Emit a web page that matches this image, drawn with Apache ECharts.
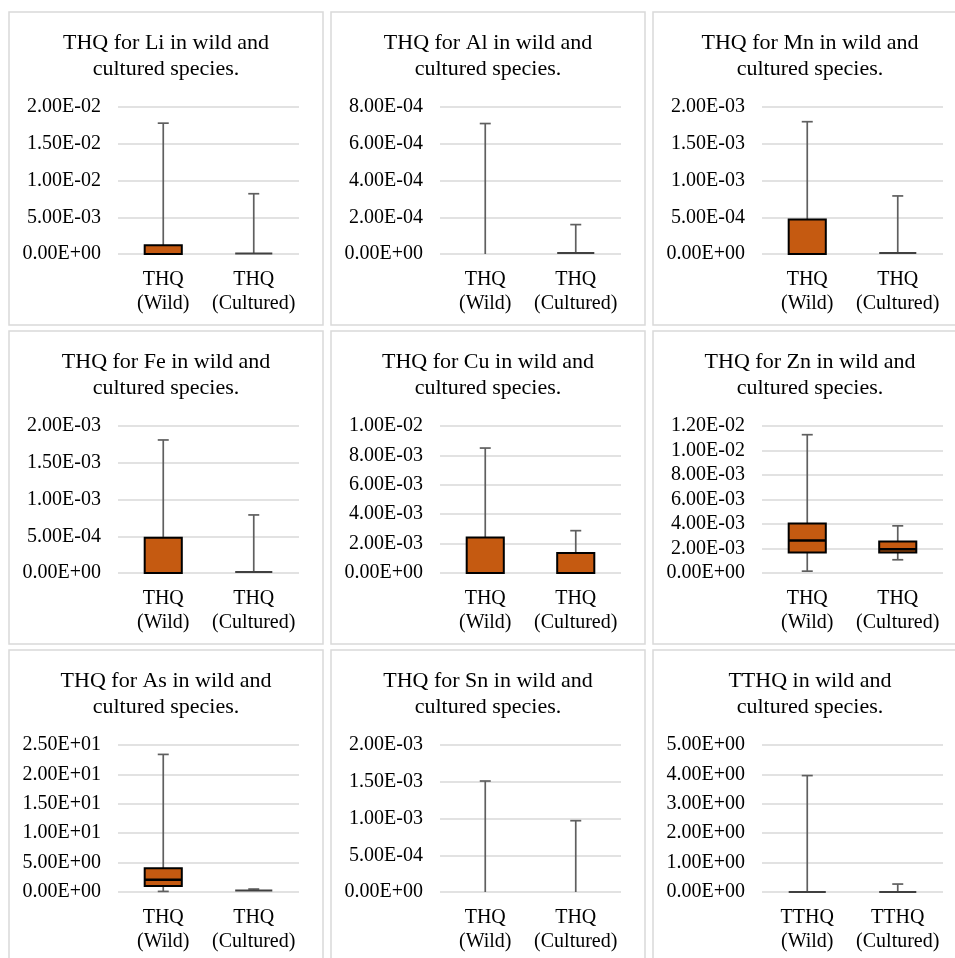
<!DOCTYPE html>
<html><head><meta charset="utf-8">
<script src="https://cdn.jsdelivr.net/npm/echarts@6/dist/echarts.min.js"></script>
<style>html,body{margin:0;padding:0;background:#fff}#c{width:955px;height:958px}</style>
</head><body><div id="c"></div>
<script>
// ---- data ----
const titles = [
  'THQ for Li in wild and\ncultured species.',
  'THQ for Al in wild and\ncultured species.',
  'THQ for Mn in wild and\ncultured species.',
  'THQ for Fe in wild and\ncultured species.',
  'THQ for Cu in wild and\ncultured species.',
  'THQ for Zn in wild and\ncultured species.',
  'THQ for As in wild and\ncultured species.',
  'THQ for Sn in wild and\ncultured species.',
  'TTHQ in wild and\ncultured species.'
];
const categoriesTHQ = ['THQ\n(Wild)', 'THQ\n(Cultured)'];
const categoriesTTHQ = ['TTHQ\n(Wild)', 'TTHQ\n(Cultured)'];
const axisMax  = [0.02, 8e-4, 2e-3, 2e-3, 0.01, 0.012, 25, 2e-3, 5];
const axisStep = [0.005, 2e-4, 5e-4, 5e-4, 0.002, 0.002, 5, 5e-4, 1];

// box stats per group: [min, Q1, median, Q3, max]  (null = no box drawn)
const liBoxes   = [[0, 0, 0, 1.2e-3, 1.78e-2], [5e-5, 5e-5, 8e-5, 1.1e-4, 8.2e-3]];
const alBoxes   = [[0, null, null, null, 7.1e-4], [4e-6, 4e-6, 5e-6, 6e-6, 1.6e-4]];
const mnBoxes   = [[0, 0, 0, 4.7e-4, 1.8e-3], [1e-5, 1e-5, 1.2e-5, 1.5e-5, 7.9e-4]];
const feBoxes   = [[0, 0, 0, 4.8e-4, 1.81e-3], [1e-5, 1e-5, 1.2e-5, 1.5e-5, 7.9e-4]];
const cuBoxes   = [[0, 0, 0, 2.42e-3, 8.5e-3], [0, 0, 0, 1.36e-3, 2.88e-3]];
const znBoxes   = [[1.5e-4, 1.67e-3, 2.65e-3, 4.04e-3, 1.129e-2], [1.08e-3, 1.67e-3, 1.93e-3, 2.57e-3, 3.85e-3]];
const asBoxes   = [[0.1, 1.0, 2.1, 4.06, 23.4], [0.2, 0.2, 0.25, 0.35, 0.5]];
const snBoxes   = [[0, null, null, null, 1.51e-3], [0, null, null, null, 9.7e-4]];
const tthqBoxes = [[0, 0, 0, 0.005, 3.96], [0, 0, 0, 0.005, 0.27]];
const panelBoxes = [liBoxes, alBoxes, mnBoxes, feBoxes, cuBoxes, znBoxes, asBoxes, snBoxes, tthqBoxes];

// ---- layout ----
const panelX = [9, 331, 653], panelY = [12, 331, 650];
const panelW = 314, panelH = 313;
const SERIF = '"Liberation Serif","Times New Roman",serif';

function fmtExp(v) {
  const s = Number(v).toExponential(2);
  const parts = s.split('e');
  const sign = parts[1][0] === '-' ? '-' : '+';
  let d = parts[1].replace(/[+-]/, '');
  if (d.length < 2) d = '0' + d;
  return parts[0] + 'E' + sign + d;
}

function makeRender(boxes) {
  return function (params, api) {
    const b = boxes[params.dataIndex];
    const xv = api.value(0);
    const band = api.size([1, 0])[0];
    const bw = band * 0.41, cw = 11;
    const P = v => api.coord([xv, v]);
    const cx = P(b[4])[0];
    const yMin = P(b[0])[1], yMax = P(b[4])[1];
    const hasBox = b[1] !== null && b[3] !== null;
    const yQ1 = hasBox ? P(b[1])[1] : yMin;
    const yQ3 = hasBox ? P(b[3])[1] : yMin;
    const ws = { stroke: '#5f5f5f', lineWidth: 1.7 };
    const ch = [];
    if (yQ3 - yMax > 0.5) {
      ch.push({ type: 'line', shape: { x1: cx, y1: yQ3, x2: cx, y2: yMax }, style: ws });
      ch.push({ type: 'line', shape: { x1: cx - cw / 2, y1: yMax, x2: cx + cw / 2, y2: yMax }, style: ws });
    }
    if (hasBox && yMin - yQ1 > 0.5) {
      ch.push({ type: 'line', shape: { x1: cx, y1: yQ1, x2: cx, y2: yMin }, style: ws });
      ch.push({ type: 'line', shape: { x1: cx - cw / 2, y1: yMin, x2: cx + cw / 2, y2: yMin }, style: ws });
    }
    if (hasBox) {
      const h = yQ1 - yQ3;
      if (h >= 2) {
        ch.push({ type: 'rect', shape: { x: cx - bw / 2, y: yQ3, width: bw, height: h },
          style: { fill: '#C55A11', stroke: '#000', lineWidth: 2 } });
        const yMed = P(b[2])[1];
        if (yMed < yQ1 - 1 && yMed > yQ3 + 1) {
          ch.push({ type: 'line', shape: { x1: cx - bw / 2, y1: yMed, x2: cx + bw / 2, y2: yMed },
            style: { stroke: '#000', lineWidth: 2.5 } });
        }
      } else {
        const ym = (yQ1 + yQ3) / 2;
        ch.push({ type: 'line', shape: { x1: cx - bw / 2, y1: ym, x2: cx + bw / 2, y2: ym },
          style: { stroke: '#404040', lineWidth: 2 } });
      }
    }
    return { type: 'group', children: ch };
  };
}

const grids = [], xAxes = [], yAxes = [], series = [], graphics = [];
for (let i = 0; i < 9; i++) {
  const px = panelX[i % 3], py = panelY[Math.floor(i / 3)];
  graphics.push({ type: 'rect', silent: true, z: -10,
    shape: { x: px, y: py, width: panelW, height: panelH },
    style: { fill: '#fff', stroke: '#d9d9d9', lineWidth: 1.5 } });
  graphics.push({ type: 'text', silent: true, x: px + 157, y: py + 18,
    style: { text: titles[i], fontSize: 22, fontFamily: SERIF, fill: '#000',
      align: 'center', verticalAlign: 'top', lineHeight: 26 } });
  grids.push({ left: px + 109, top: py + 95, width: 181, height: 147, containLabel: false });
  xAxes.push({ type: 'category', gridIndex: i, data: i === 8 ? categoriesTTHQ : categoriesTHQ,
    axisLine: { show: false }, axisTick: { show: false }, splitLine: { show: false },
    axisLabel: { fontSize: 20, fontFamily: SERIF, color: '#000', lineHeight: 23.5, margin: 14, interval: 0 } });
  yAxes.push({ type: 'value', gridIndex: i, min: 0, max: axisMax[i], interval: axisStep[i],
    axisLine: { show: false }, axisTick: { show: false },
    splitLine: { show: true, lineStyle: { color: '#d9d9d9', width: 1.5 } },
    axisLabel: { fontSize: 20, fontFamily: SERIF, color: '#000', margin: 17, formatter: fmtExp } });
  series.push({ type: 'custom', xAxisIndex: i, yAxisIndex: i, clip: false,
    renderItem: makeRender(panelBoxes[i]),
    encode: { x: 0, y: 1 },
    data: panelBoxes[i].map((b, k) => [k, b[4]]) });
}

const chart = echarts.init(document.getElementById('c'), null, { renderer: 'canvas' });
chart.setOption({
  backgroundColor: '#fff',
  animation: false,
  graphic: graphics,
  grid: grids, xAxis: xAxes, yAxis: yAxes, series: series
});
</script></body></html>
